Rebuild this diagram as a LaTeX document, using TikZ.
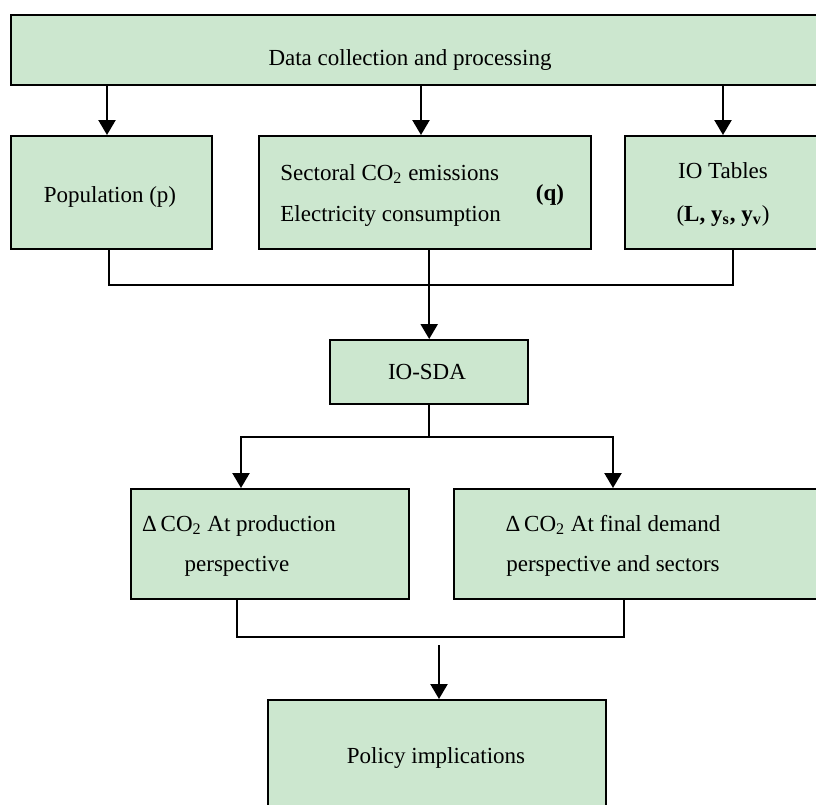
\documentclass[tikz,border=0pt]{standalone}
\usepackage{fontspec}
\setmainfont{Liberation Serif}
\usetikzlibrary{arrows.meta}
\definecolor{boxgreen}{RGB}{204,231,207}
\begin{document}
\begin{tikzpicture}[x=0.5pt,y=-0.5pt,
  box/.style={draw=black, fill=boxgreen, line width=1.2pt, inner sep=0pt, anchor=north west},
  txt/.style={inner sep=0pt, font=\fontsize{11.5}{14}\selectfont},
  conn/.style={line width=1.2pt},
  arr/.style={conn, -{Triangle[length=7.5pt,width=8.5pt]}}]
\useasboundingbox (0,0) rectangle (816,805);
\clip (0,0) rectangle (816,805);

% boxes
\node[box, minimum width=410pt, minimum height=35pt] (top) at (10,14) {};
\node[box, minimum width=100.5pt, minimum height=56.5pt] (pop) at (10,135) {};
\node[box, minimum width=166pt, minimum height=56.5pt] (sect) at (258,135) {};
\node[box, minimum width=103pt, minimum height=56.5pt] (io) at (624,135) {};
\node[box, minimum width=99pt, minimum height=32pt] (sda) at (329,339) {};
\node[box, minimum width=139pt, minimum height=55pt] (dl) at (130,488) {};
\node[box, minimum width=188.5pt, minimum height=55pt] (dr) at (453,488) {};
\node[box, minimum width=169pt, minimum height=65.5pt] (pol) at (267,699) {};

% texts
\node[txt, anchor=base] (t1) at (410,65) {Data collection and processing};
\node[txt, anchor=base] (t2) at (110,202) {Population (p)};
\node[txt, anchor=base west] (t3) at (280,180) {Sectoral CO\textsubscript{2} emissions};
\node[txt, anchor=base west] (t4) at (280,221) {Electricity consumption};
\node[txt, anchor=base] (t5) at (550,200) {\textbf{(q)}};
\node[txt, anchor=base] (t6) at (723,178) {IO Tables};
\node[txt, anchor=base] (t7) at (723,221) {(\textbf{L, y\textsubscript{s}, y\textsubscript{v}})};
\node[txt, anchor=base] (t8) at (427,379) {IO-SDA};
\node[txt, anchor=base] (t9) at (239,531) {Δ\,CO\textsubscript{2} At production};
\node[txt, anchor=base] (t10) at (237,571) {perspective};
\node[txt, anchor=base] (t11) at (613,531) {Δ\,CO\textsubscript{2} At final demand};
\node[txt, anchor=base] (t12) at (613,571) {perspective and sectors};
\node[txt, anchor=base] (t13) at (436,763) {Policy implications};

% connector helper coordinates
\coordinate (ca) at (107,0);
\coordinate (cb) at (421,0);
\coordinate (cc) at (723,0);
\coordinate (j1) at (109,285);
\coordinate (j2) at (733,285);
\coordinate (j3) at (241,437);
\coordinate (j4) at (613,437);
\coordinate (j5) at (237,637);
\coordinate (j6) at (624,637);
\coordinate (s7) at (439,645);

% connectors
\draw[arr] (top.south -| ca) -- (pop.north -| ca);
\draw[arr] (top.south -| cb) -- (sect.north -| cb);
\draw[arr] (top.south -| cc) -- (io.north -| cc);
\draw[conn] (pop.south -| j1) -- (j1) -- (j2) -- (io.south -| j2);
\draw[arr] (sect.south -| sda.north) -- (sda.north);
\draw[arr] (sda.south) |- (j3) -- (dl.north -| j3);
\draw[arr] (sda.south) |- (j4) -- (dr.north -| j4);
\draw[conn] (dl.south -| j5) -- (j5) -- (j6) -- (dr.south -| j6);
\draw[arr] (s7) -- (pol.north -| s7);
\end{tikzpicture}
\end{document}
